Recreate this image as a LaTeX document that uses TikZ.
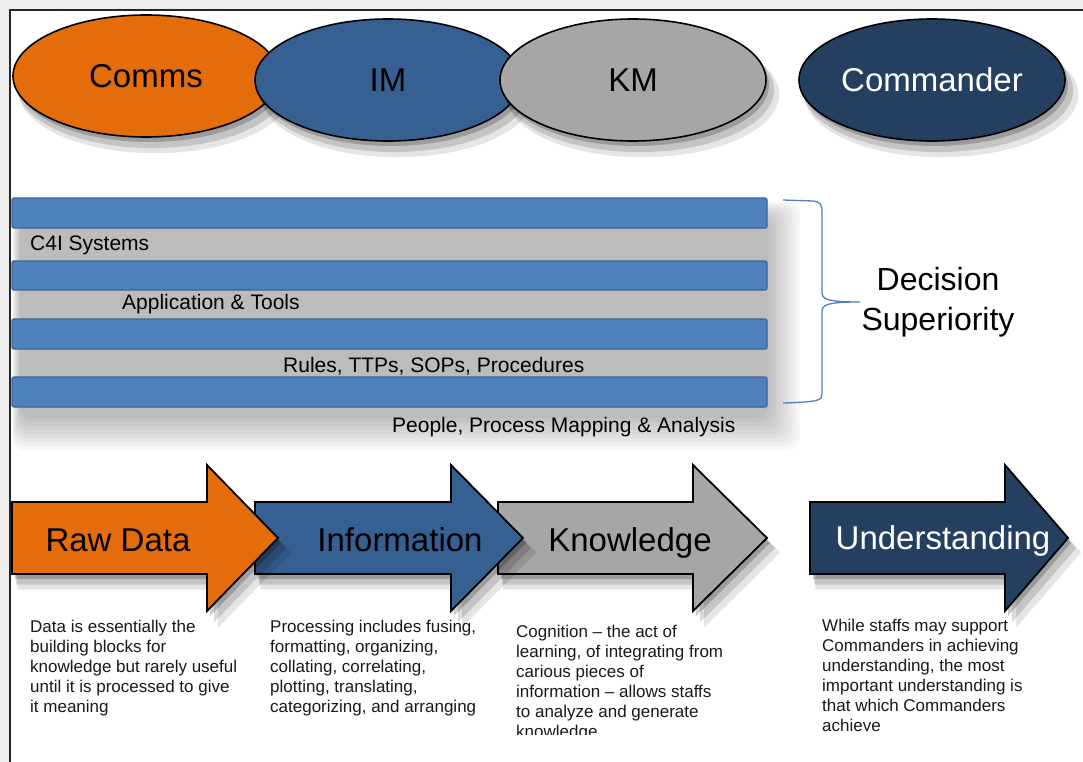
\documentclass[tikz,border=0pt]{standalone}
\usepackage{fontspec}
\setmainfont{Liberation Sans}
\usetikzlibrary{shapes.geometric,shadows}
\definecolor{commsorange}{HTML}{E46C0A}
\definecolor{imblue}{HTML}{366092}
\definecolor{kmgray}{HTML}{A6A6A6}
\definecolor{cmdnavy}{HTML}{243F60}
\definecolor{barblue}{HTML}{4F81BD}
\definecolor{barrim}{HTML}{3A6496}

\begin{document}
\begin{tikzpicture}[x=1pt,y=1pt,
    soft/.style={general shadow={fill=black,opacity=.10,shadow xshift=9pt,shadow yshift=-14pt,shadow scale=1.03},
                 general shadow={fill=black,opacity=.14,shadow xshift=6pt,shadow yshift=-10pt,shadow scale=1.015},
                 general shadow={fill=black,opacity=.20,shadow xshift=3pt,shadow yshift=-5pt}},
    oval/.style={ellipse,draw=black,line width=1.6pt,minimum width=266pt,minimum height=122pt,inner sep=0,soft,font=\fontsize{33}{38}\selectfont},
    bar/.style={draw=barrim,fill=barblue,line width=1.2pt,rounded corners=2pt},
    band/.style={anchor=base west,inner sep=0,font=\fontsize{21}{25}\selectfont},
    flow/.style={draw=black,line width=1.8pt,line join=miter,soft},
    flowtext/.style={anchor=base,inner sep=0,font=\fontsize{33}{38}\selectfont},
    note/.style={anchor=north west,align=left,inner sep=0,font=\fontsize{17}{20}\selectfont,text=black!90}]
    \newcommand{\flowarrow}[4]{\draw[flow,fill=#4](#1,-502)--(#2,-502)--(#2,-465)--(#3,-538)--(#2,-611)--(#2,-574)--(#1,-574)--cycle;}
    \useasboundingbox(0,0)rectangle(1083,-762);
    \fill[black!7](0,0)rectangle(1083,-762);
    \fill[white](10,-10)rectangle(1083,-762);
    \draw[black!85,line width=1.5pt](10,-762)--(10,-10)--(1083,-10);
    \node[oval,fill=commsorange](comms)at(146,-76){Comms};
    \node[oval,fill=imblue](im)at(388,-80){IM};
    \node[oval,fill=kmgray](km)at(633,-80){KM};
    \node[oval,fill=cmdnavy,text=white](cmdr)at(932,-80){Commander};
    % grey haze behind the layer bars
    \foreach \d in {0,4,...,32}
        \fill[black,opacity=.032,rounded corners=12pt](12+\d/4,-202-\d/2)rectangle(800-\d,-450+\d);
    \draw[bar](12,-198)rectangle(767,-228);
    \draw[bar](12,-261)rectangle(767,-290);
    \draw[bar](12,-319)rectangle(767,-349);
    \draw[bar](12,-377)rectangle(767,-407);
    \node[band](c4i)at(30,-250){C4I Systems};
    \node[band](apps)at(122,-309){Application \& Tools};
    \node[band](rules)at(283,-372){Rules, TTPs, SOPs, Procedures};
    \node[band](people)at(392,-432){People, Process Mapping \& Analysis};
    \draw[barblue,line width=1.3pt](783,-200)--(813,-201)..controls(820,-202)and(822,-204)..(822,-212)--(822,-292)..controls(822,-299)and(826,-302)..(860,-302)..controls(826,-302)and(822,-305)..(822,-312)--(822,-394)..controls(822,-400)and(820,-402)..(783,-403);
    \node[align=center,inner sep=0,font=\fontsize{32}{40}\selectfont](ds)at(938,-302){Decision\\Superiority};
    \flowarrow{498}{693}{767}{kmgray}
    \flowarrow{255}{451}{523}{imblue}
    \flowarrow{12}{207}{278}{commsorange}
    \flowarrow{810}{1005}{1068}{cmdnavy}
    \node[flowtext](raw)at(118,-551){Raw Data};
    \node[flowtext](info)at(400,-551){Information};
    \node[flowtext](know)at(630,-551){Knowledge};
    \node[flowtext,text=white](under)at(943,-549){Understanding};
    \node[note](rawnote)at(30,-620){Data is essentially the\\building blocks for\\knowledge but rarely useful\\until it is processed to give\\it meaning};
    \node[note](infonote)at(270,-620){Processing includes fusing,\\formatting, organizing,\\collating, correlating,\\plotting, translating,\\categorizing, and arranging};
    \begin{scope}
        \clip(500,-600)rectangle(780,-734);
        \node[note](knownote)at(516,-625){Cognition -- the act of\\learning, of integrating from\\carious pieces of\\information -- allows staffs\\to analyze and generate\\knowledge};
    \end{scope}
    \node[note](undernote)at(822,-619){While staffs may support\\Commanders in achieving\\understanding, the most\\important understanding is\\that which Commanders\\achieve};
\end{tikzpicture}
\end{document}
